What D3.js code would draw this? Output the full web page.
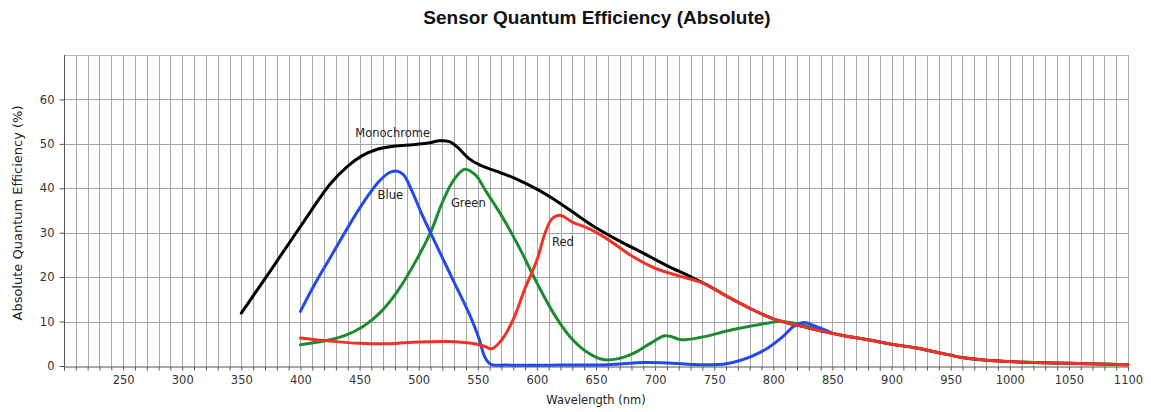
<!DOCTYPE html>
<html>
<head>
<meta charset="utf-8">
<script src="https://cdn.jsdelivr.net/npm/d3@7"></script>
<style>
  body { margin: 0; background: #fff; }
  svg { display: block; }
</style>
</head>
<body>
<script>
// values: [wavelength nm, QE %]
const monochrome = [
  [350, 11.9], [375, 21.6], [400, 31.4], [425, 40.9], [440, 45.0], [452, 47.3],
  [465, 48.8], [480, 49.5], [495, 49.8], [508, 50.2], [518, 50.7], [526, 50.5],
  [533, 49.2], [542, 46.8], [552, 45.2], [565, 43.9], [580, 42.4], [600, 39.8],
  [615, 37.4], [630, 34.7], [650, 31.1], [670, 28.1], [690, 25.4], [710, 22.6],
  [730, 20.1], [745, 18.1], [760, 15.8], [780, 13.0], [800, 10.6], [820, 9.2],
  [840, 7.9], [860, 6.8], [880, 5.9], [900, 4.9], [920, 4.1], [940, 3.0],
  [960, 1.9], [980, 1.3], [1000, 1.0], [1020, 0.8], [1050, 0.6], [1075, 0.45], [1100, 0.3]
];
const blue = [
  [400, 12.3], [411, 17.9], [425, 24.3], [439, 30.7], [453, 36.7], [466, 41.4],
  [475, 43.5], [481, 43.9], [487, 43.1], [494, 39.6], [502, 34.6], [515, 27.2],
  [529, 19.4], [543, 11.6], [551, 6.2], [556, 2.0], [561, 0.4], [575, 0.2],
  [620, 0.2], [660, 0.3], [690, 0.8], [710, 0.7], [740, 0.3], [760, 0.5],
  [780, 2.0], [795, 4.0], [808, 6.6], [817, 8.9], [826, 9.8], [835, 9.0], [850, 7.4]
];
const green = [
  [400, 4.8], [425, 5.9], [439, 7.0], [453, 8.9], [467, 11.9], [481, 16.4],
  [495, 22.4], [510, 30.0], [520, 36.8], [530, 42.0], [539, 44.3], [548, 43.0],
  [557, 39.3], [572, 33.0], [586, 26.2], [600, 18.7], [614, 11.9], [628, 6.6],
  [642, 3.2], [655, 1.5], [668, 1.6], [682, 2.9], [696, 5.1], [708, 6.8],
  [714, 6.6], [722, 5.9], [738, 6.4], [766, 8.2], [794, 9.6], [805, 10.0], [822, 9.4], [840, 7.9]
];
const red = [
  [400, 6.3], [425, 5.6], [450, 5.1], [475, 5.0], [500, 5.4], [525, 5.5],
  [545, 5.1], [555, 4.5], [562, 3.9], [570, 5.8], [580, 10.5], [590, 17.5],
  [600, 23.8], [607, 30.0], [613, 33.2], [620, 33.9], [630, 32.4], [645, 30.8],
  [660, 28.5], [680, 24.8], [700, 22.0], [720, 20.3], [740, 18.7], [760, 15.8],
  [780, 13.0], [800, 10.6], [820, 9.2], [840, 7.9], [860, 6.8], [880, 5.9],
  [900, 4.9], [920, 4.1], [940, 3.0], [960, 1.9], [980, 1.3], [1000, 1.0],
  [1020, 0.8], [1050, 0.6], [1075, 0.45], [1100, 0.3]
];

const series = [
  {name: "Monochrome", values: monochrome, color: "#000000", label: [478, 52.4]},
  {name: "Green", values: green, color: "#1e8c2e", label: [542, 36.8]},
  {name: "Blue", values: blue, color: "#2449ec", label: [476, 38.6]},
  {name: "Red", values: red, color: "#ef3225", label: [622, 28.0]}
];

const xTicks = d3.range(250, 1101, 50);
const yTicks = [0, 10, 20, 30, 40, 50, 60];

const width = 1151, height = 412;
const margin = {top: 55, right: 23, bottom: 46, left: 64};

const svg = d3.select("body").append("svg")
  .attr("width", width)
  .attr("height", height);

const x = d3.scaleLinear().domain([200, 1100]).range([margin.left, width - margin.right]);
const y = d3.scaleLinear().domain([0, 70]).range([height - margin.bottom, margin.top]);

const font = "'DejaVu Sans', Verdana, sans-serif";

// grid
const grid = svg.append("g");
grid.selectAll("line.v")
  .data(d3.range(210, 1101, 10))
  .enter().append("line")
  .attr("x1", d => Math.round(x(d)) + 0.5).attr("x2", d => Math.round(x(d)) + 0.5)
  .attr("y1", y(70)).attr("y2", y(0))
  .attr("stroke", "#a8a8a8").attr("stroke-width", 1);
grid.selectAll("line.h")
  .data([10, 20, 30, 40, 50, 60, 70])
  .enter().append("line")
  .attr("x1", x(200)).attr("x2", x(1100))
  .attr("y1", d => Math.round(y(d)) + 0.5).attr("y2", d => Math.round(y(d)) + 0.5)
  .attr("stroke", d => d === 70 ? "#b5b5b5" : "#a3a3a3").attr("stroke-width", 1);

// axes
const xAxis = svg.append("g")
  .attr("transform", `translate(0,${Math.round(y(0)) + 0.5})`)
  .call(d3.axisBottom(x).tickValues(d3.range(200, 1101, 10)).tickSize(4)
    .tickFormat(d => xTicks.includes(d) ? d : ""));
xAxis.select(".domain").attr("stroke", "#555");
xAxis.selectAll(".tick line").attr("stroke", "#555");
xAxis.selectAll("text").attr("font-family", font).attr("font-size", 11.5)
  .attr("fill", "#333").attr("dy", "0.95em");

const yAxis = svg.append("g")
  .attr("transform", `translate(${Math.round(x(200)) + 0.5},0)`)
  .call(d3.axisLeft(y).tickValues(yTicks).tickSize(5).tickPadding(5));
yAxis.select(".domain").attr("stroke", "#555").attr("d", `M0,${y(70)}V${y(0)}`);
yAxis.selectAll(".tick line").attr("stroke", "#555");
yAxis.selectAll("text").attr("font-family", font).attr("font-size", 11.5).attr("fill", "#333");

// curves
const line = d3.line()
  .x(d => x(d[0]))
  .y(d => y(d[1]))
  .curve(d3.curveCatmullRom.alpha(0.5));

svg.append("g").selectAll("path")
  .data(series)
  .enter().append("path")
  .attr("d", d => line(d.values))
  .attr("fill", "none")
  .attr("stroke", d => d.color)
  .attr("stroke-width", 3)
  .attr("stroke-linejoin", "round")
  .attr("stroke-linecap", "round");

// curve labels
svg.append("g").selectAll("text")
  .data(series)
  .enter().append("text")
  .attr("x", d => x(d.label[0]))
  .attr("y", d => y(d.label[1]))
  .attr("text-anchor", "middle")
  .attr("dominant-baseline", "central")
  .attr("font-family", font)
  .attr("font-size", 11.5)
  .attr("fill", "#222")
  .text(d => d.name);

// titles
svg.append("text")
  .attr("x", 597).attr("y", 24)
  .attr("text-anchor", "middle")
  .attr("font-family", "'Liberation Sans', Arial, sans-serif")
  .attr("font-weight", "bold")
  .attr("font-size", 19)
  .attr("fill", "#111")
  .text("Sensor Quantum Efficiency (Absolute)");

svg.append("text")
  .attr("x", 596).attr("y", 404)
  .attr("text-anchor", "middle")
  .attr("font-family", font)
  .attr("font-size", 11.5)
  .attr("fill", "#222")
  .text("Wavelength (nm)");

svg.append("text")
  .attr("transform", "translate(22,213) rotate(-90)")
  .attr("text-anchor", "middle")
  .attr("font-family", font)
  .attr("font-size", 13)
  .attr("fill", "#222")
  .text("Absolute Quantum Efficiency (%)");
</script>
</body>
</html>
